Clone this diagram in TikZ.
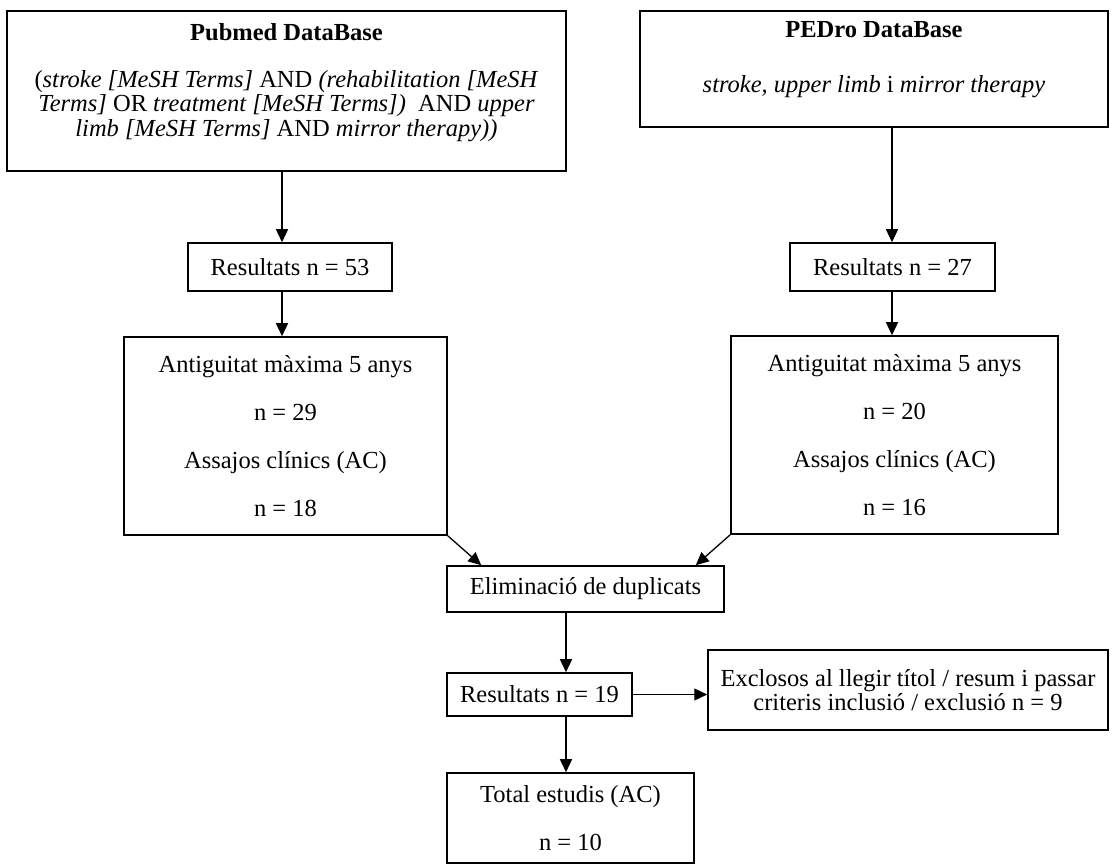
\documentclass[tikz,border=0pt]{standalone}
\usepackage{fontspec}
\setmainfont{Liberation Serif}
\usepackage{tikz}
\usetikzlibrary{arrows.meta}
\setlength{\lineskiplimit}{-10pt}

\tikzset{
    box/.style={draw, line width=0.75pt, align=center, inner sep=0pt, font=\fontsize{12.25}{12}\selectfont},
}

\begin{document}
\begin{tikzpicture}[>={Triangle[length=6.5pt, width=6pt]}, x=0.5pt, y=-0.5pt, line width=0.65pt]
    \useasboundingbox (0, 0) rectangle (1115, 865);
    % databases
    \node [box, minimum width=279.5pt, minimum height=80pt, font=\fontsize{12.25}{12.3}\selectfont] (pubmed) at (286.5, 91) {\textbf{Pubmed DataBase}\\[11pt]
        (\textit{stroke [MeSH Terms]} AND \textit{(rehabilitation [MeSH}\\
        \textit{Terms]} OR \textit{treatment [MeSH Terms])}\ \ AND \textit{upper}\\
        \textit{limb [MeSH Terms]} AND \textit{mirror therapy))}\rule[-11pt]{0pt}{11pt}};
    \node [box, minimum width=234pt, minimum height=58pt] (pedro) at (874, 69) {\textbf{PEDro DataBase}\\[15.5pt]
        \textit{stroke, upper limb} i \textit{mirror therapy}\rule[-12pt]{0pt}{12pt}};
    \node [box, minimum width=102pt, minimum height=24pt] (res53) at (290, 267) {Resultats n = 53};
    \node [box, minimum width=102.5pt, minimum height=24pt] (res27) at (892.5, 267) {Resultats n = 27};
    \node [box, minimum width=161.5pt, minimum height=99pt] (antigL) at (285.5, 436) {Antiguitat màxima 5 anys\\[12pt] n = 29\\[12pt] Assajos clínics (AC)\\[12pt] n = 18};
    \node [box, minimum width=163.5pt, minimum height=99pt] (antigR) at (894.5, 435) {Antiguitat màxima 5 anys\\[12pt] n = 20\\[12pt] Assajos clínics (AC)\\[12pt] n = 16};
    \node [box, minimum width=138.5pt, minimum height=23pt] (elim) at (585.5, 589) {Eliminació de duplicats};
    \node [box, minimum width=92.5pt, minimum height=21.5pt] (res19) at (539.5, 694.5) {Resultats n = 19};
    \node [box, minimum width=200pt, minimum height=40pt] (excl) at (908, 690) {Exclosos al llegir títol / resum i passar\\ criteris inclusió / exclusió n = 9};
    \node [box, minimum width=123.5pt, minimum height=45pt] (total) at (570.5, 818) {Total estudis (AC)\\[12pt] n = 10};

    \coordinate (colL) at (282, 0);
    \coordinate (colR) at (892, 0);
    \coordinate (colM) at (566, 0);

    \draw [->] (pubmed.south -| colL) -- (res53.north -| colL);
    \draw [->] (res53.south -| colL) -- (antigL.north -| colL);
    \draw [->] (pedro.south -| colR) -- (res27.north -| colR);
    \draw [->] (res27.south -| colR) -- (antigR.north -| colR);
    \draw [->] (antigL.south east) -- ([xshift=17.5pt]elim.north west);
    \draw [->] (antigR.south west) -- ([xshift=-14.5pt]elim.north east);
    \draw [->] (elim.south -| colM) -- (res19.north -| colM);
    \draw [->] (res19.east) -- (res19.east -| excl.west);
    \draw [->] (res19.south -| colM) -- (total.north -| colM);
\end{tikzpicture}
\end{document}
